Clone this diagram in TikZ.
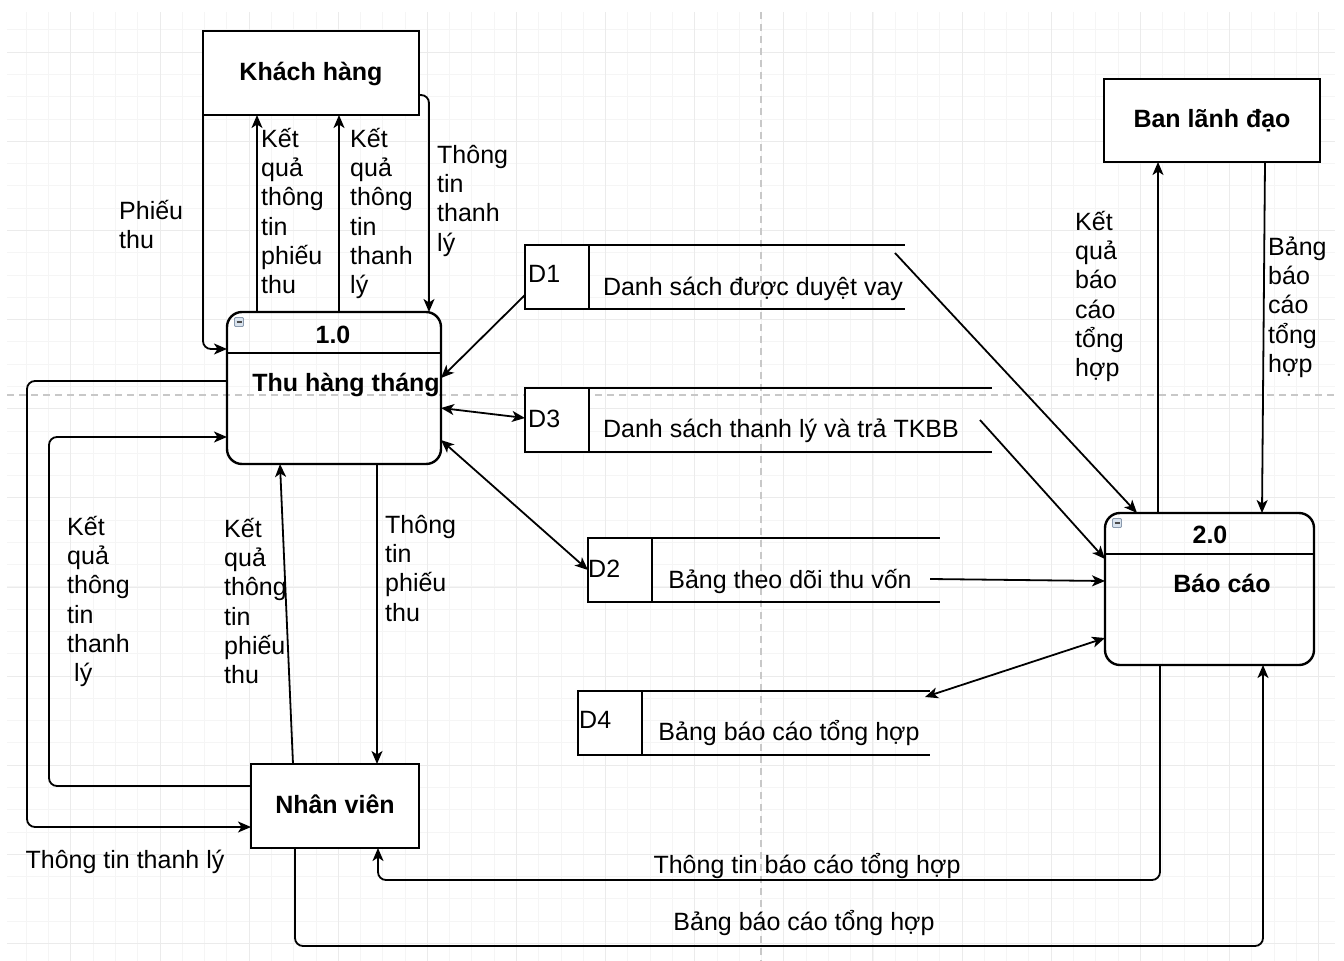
\documentclass[tikz,border=0pt]{standalone}
\usepackage{fontspec}
\setmainfont{Liberation Sans}
\usetikzlibrary{arrows.meta,calc}
\definecolor{gridminor}{HTML}{F5F5F5}
\definecolor{gridmajor}{HTML}{EBEBEB}
\definecolor{pagebrk}{HTML}{C8C8C8}
\definecolor{iconfill}{HTML}{D9E3EE}
\definecolor{icondraw}{HTML}{8A9AAE}
\begin{document}
\begin{tikzpicture}[x=1pt,y=-1pt,
  minorline/.style={draw=gridminor,line width=1pt},
  majorline/.style={draw=gridmajor,line width=1pt},
  breakline/.style={draw=pagebrk,line width=1.3pt,dash pattern=on 7pt off 5pt},
  ent/.style={draw=black,line width=2.4pt,fill=white,inner sep=0pt,outer sep=0pt,
    font=\fontsize{25}{29.3}\selectfont\bfseries,text height=18pt,text depth=4pt},
  proc/.style={draw=black,line width=2.4pt,rounded corners=15pt,inner sep=0pt,outer sep=0pt},
  storebox/.style={draw=black,line width=2pt,fill=white,inner sep=0pt,outer sep=0pt,
    minimum width=64pt,minimum height=64pt},
  storeline/.style={draw=black,line width=2pt},
  ptitle/.style={font=\fontsize{25}{29.3}\selectfont\bfseries,inner sep=0pt,anchor=base},
  lbl/.style={font=\fontsize{25}{29.3}\selectfont,inner sep=0pt,align=left,anchor=north west},
  txt/.style={font=\fontsize{25}{29.3}\selectfont,inner sep=0pt,anchor=base},
  flow/.style={draw=black,line width=1.8pt,-{Stealth[length=13pt,width=11pt,inset=3.5pt]}},
  biflow/.style={draw=black,line width=1.8pt,
    {Stealth[length=13pt,width=11pt,inset=3.5pt]}-{Stealth[length=13pt,width=11pt,inset=3.5pt]}},
  elbow/.style={rounded corners=8pt},
]
\useasboundingbox (0,0) rectangle (1344,961);
\fill[white] (0,0) rectangle (1344,961);

% background grid and page-break guides
\foreach \k in {1,...,59} \draw[minorline] ({4.1+22.28*\k},12) -- ({4.1+22.28*\k},961);
\foreach \k in {1,...,42} \draw[minorline] (7,{7.7+22.28*\k}) -- (1335,{7.7+22.28*\k});
\foreach \k in {0,...,14} \draw[majorline] ({70.9+89.12*\k},12) -- ({70.9+89.12*\k},961);
\foreach \k in {0,...,10} \draw[majorline] (7,{52.3+89.12*\k}) -- (1335,{52.3+89.12*\k});
\draw[breakline] (761,12) -- (761,961);
\draw[breakline] (7,395) -- (1335,395);

% external entities
\node[ent,minimum width=216pt,minimum height=84pt] (kh) at (311,73) {Khách hàng};
\node[ent,minimum width=216pt,minimum height=83pt] (bld) at (1212,120.5) {Ban lãnh đạo};
\node[ent,minimum width=168pt,minimum height=84pt] (nv) at (335,806) {Nhân viên};

% processes
\node[proc,minimum width=214pt,minimum height=152pt] (p1) at (334,388) {};
\node[proc,minimum width=209pt,minimum height=152pt] (p2) at (1209.5,589) {};
\draw[line width=2.4pt] ($(p1.north west)+(0,41)$) -- ($(p1.north east)+(0,41)$);
\draw[line width=2.4pt] ($(p2.north west)+(0,41)$) -- ($(p2.north east)+(0,41)$);
\foreach \p in {p1,p2} {
  \draw[draw=icondraw,fill=iconfill,line width=0.8pt,rounded corners=1pt]
    ($(\p.north west)+(7.5,5.5)$) rectangle ($(\p.north west)+(16.5,14.5)$);
  \draw[black!70,line width=1.2pt] ($(\p.north west)+(9.5,10)$) -- ($(\p.north west)+(14.5,10)$);
}
\node[ptitle] (p1num) at (333,343) {1.0};
\node[ptitle] (p1name) at (346,391) {Thu hàng tháng};
\node[ptitle] (p2num) at (1210,543) {2.0};
\node[ptitle] (p2name) at (1222,592) {Báo cáo};

% data stores
\node[storebox] (d1) at (557,277) {};
\draw[storeline] (d1.north east) -- ++(316,0);
\draw[storeline] (d1.south east) -- ++(316,0);
\node[txt,anchor=base west] (d1id) at (528,282) {D1};
\node[txt] (d1name) at (753,295) {Danh sách được duyệt vay};

\node[storebox] (d3) at (557,420) {};
\draw[storeline] (d3.north east) -- ++(403,0);
\draw[storeline] (d3.south east) -- ++(403,0);
\node[txt,anchor=base west] (d3id) at (528,427) {D3};
\node[txt] (d3name) at (781,437) {Danh sách thanh lý và trả TKBB};

\node[storebox] (d2) at (620,570) {};
\draw[storeline] (d2.north east) -- ++(288,0);
\draw[storeline] (d2.south east) -- ++(288,0);
\node[txt,anchor=base west] (d2id) at (588,577) {D2};
\node[txt] (d2name) at (790,588) {Bảng theo dõi thu vốn};

\node[storebox] (d4) at (610,723) {};
\draw[storeline] (d4.north east) -- ++(288,0);
\draw[storeline] (d4.south east) -- ++(288,0);
\node[txt,anchor=base west] (d4id) at (579,728) {D4};
\node[txt] (d4name) at (789,740) {Bảng báo cáo tổng hợp};

% flows around Khách hàng
\draw[flow,elbow] (kh.south west) |- ($(p1.north west)+(0,37)$);
\draw[flow] ($(p1.north west)+(30,0)$) -- ($(kh.south west)+(54,0)$);
\draw[flow] ($(p1.north west)+(112,0)$) -- ($(kh.south west)+(136,0)$);
\draw[flow,elbow] ($(kh.north east)+(0,64)$) -| ($(p1.north west)+(202,0)$);

% flows between 1.0 and the stores
\draw[flow] ($(d1.south west)+(0,-14)$) -- ($(p1.north east)+(0,66)$);
\draw[biflow] ($(p1.north east)+(0,96)$) -- ($(d3.north west)+(0,30)$);
\draw[biflow] ($(p1.north east)+(0,128)$) -- ($(d2.north west)+(0,32)$);

% flows into 2.0
\draw[flow] ($(d1.north east)+(306,8)$) -- ($(p2.north west)+(32,0)$);
\draw[flow] ($(d3.north east)+(391,32)$) -- ($(p2.north west)+(0,46)$);
\draw[flow] ($(d2.north east)+(278,41)$) -- ($(p2.north west)+(0,68)$);
\draw[biflow] ($(d4.north east)+(283,6)$) -- ($(p2.north west)+(0,125)$);

% flows with Ban lãnh đạo
\draw[flow] ($(p2.north west)+(53,0)$) -- ($(bld.south west)+(54,0)$);
\draw[flow] ($(bld.south west)+(161,0)$) -- ($(p2.north west)+(157,0)$);

% flows with Nhân viên
\draw[flow] ($(p1.south west)+(150,0)$) -- ($(nv.north west)+(126,0)$);
\draw[flow] ($(nv.north west)+(42,0)$) -- ($(p1.south west)+(53,0)$);
\draw[flow,elbow] ($(nv.north west)+(0,22)$) -- ++(-202,0) |- ($(p1.north west)+(0,125)$);
\draw[flow,elbow] ($(p1.north west)+(0,69)$) -- ++(-200,0) |- ($(nv.north west)+(0,63)$);
\draw[flow,elbow] ($(p2.south west)+(55,0)$) -- ++(0,215) -| ($(nv.south west)+(127,0)$);
\draw[flow,elbow] ($(nv.south west)+(44,0)$) -- ++(0,98) -| ($(p2.south west)+(158,0)$);

% flow labels
\node[lbl] (lbA) at (119,193) {\rule{0pt}{26pt}Phiếu\\thu};
\node[lbl] (lbB) at (261,121) {\rule{0pt}{26pt}Kết\\quả\\thông\\tin\\phiếu\\thu};
\node[lbl] (lbC) at (350,121) {\rule{0pt}{26pt}Kết\\quả\\thông\\tin\\thanh\\lý};
\node[lbl] (lbD) at (437,137) {\rule{0pt}{26pt}Thông\\tin\\thanh\\lý};
\node[lbl] (lbE) at (1075,204) {\rule{0pt}{26pt}Kết\\quả\\báo\\cáo\\tổng\\hợp};
\node[lbl] (lbF) at (1268,229) {\rule{0pt}{26pt}Bảng\\báo\\cáo\\tổng\\hợp};
\node[lbl] (lbG) at (67,509) {\rule{0pt}{26pt}Kết\\quả\\thông\\tin\\thanh\\\hspace*{7pt}lý};
\node[lbl] (lbH) at (224,511) {\rule{0pt}{26pt}Kết\\quả\\thông\\tin\\phiếu\\thu};
\node[lbl] (lbI) at (385,507) {\rule{0pt}{26pt}Thông\\tin\\phiếu\\thu};
\node[txt] (lbJ) at (125,868) {Thông tin thanh lý};
\node[txt] (lbK) at (807,873) {Thông tin báo cáo tổng hợp};
\node[txt] (lbL) at (804,930) {Bảng báo cáo tổng hợp};
\end{tikzpicture}
\end{document}
